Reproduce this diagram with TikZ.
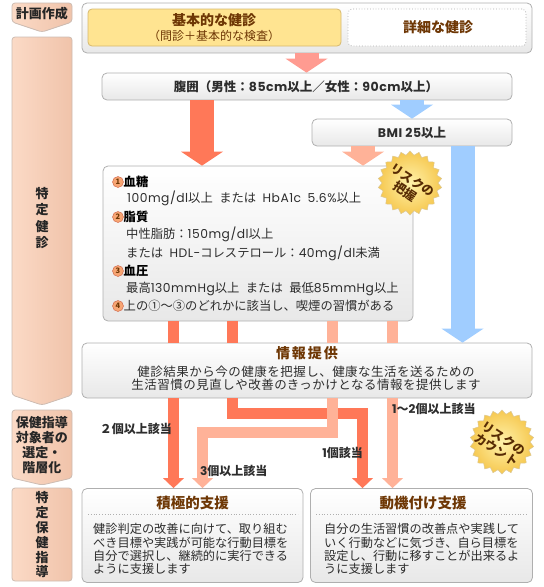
\documentclass[tikz,border=0pt]{standalone}
\usepackage{fontspec}
\setmainfont{Noto Sans CJK JP}
\newfontfamily\latfam{Poppins}
\newcommand\lt[1]{{\latfam\addfontfeature{LetterSpace=4}#1}}
\newcommand\wsp{\hspace{6.5pt}}
\usetikzlibrary{arrows.meta,shapes.symbols}
\definecolor{boxline}{RGB}{175,175,175}
\definecolor{boxbot}{RGB}{232,232,232}
\definecolor{brownt}{RGB}{110,55,5}
\definecolor{txt}{RGB}{45,45,45}
\definecolor{colL}{RGB}{251,218,198}
\definecolor{colR}{RGB}{240,195,170}
\definecolor{colline}{RGB}{205,188,178}
\definecolor{yel}{RGB}{255,228,145}
\definecolor{yelline}{RGB}{215,185,110}
\definecolor{redA}{RGB}{255,120,88}
\definecolor{salA}{RGB}{255,178,152}
\definecolor{pinkA}{RGB}{255,155,145}
\definecolor{blueA}{RGB}{160,205,255}
\definecolor{burstin}{RGB}{255,242,170}
\definecolor{burstout}{RGB}{246,200,80}
\definecolor{burstline}{RGB}{220,200,150}
\definecolor{numfill}{RGB}{247,165,115}
\begin{document}
\begin{tikzpicture}[x=1pt,y=-1pt,
 box/.style={draw=boxline, line width=0.8pt, rounded corners=5pt, top color=white, bottom color=boxbot, inner sep=0pt},
 colshape/.style={draw=colline, line width=0.8pt, left color=colL, right color=colR, rounded corners=3pt},
 coltext/.style={font=\fontsize{13}{15}\selectfont\bfseries, text=black!85, align=center, inner sep=0pt},
 bigarrow/.style={draw=#1, line width=24pt, line cap=butt, -{Triangle[width=42pt,length=14pt,line width=0pt]}},
 shaft/.style={draw=#1, line width=11pt, line cap=butt},
 thinarrow/.style={draw=#1, line width=11pt, line cap=butt, line join=miter, -{Triangle[width=21pt,length=10pt,line width=0pt]}},
 lbl/.style={font=\fontsize{12}{14}\selectfont\bfseries, text=txt, inner sep=0pt},
 rt/.style={font=\fontsize{12.3}{14}\selectfont, text=txt, inner sep=0pt, anchor=base west},
 rh/.style={font=\fontsize{12.3}{14}\selectfont\bfseries, text=black, inner sep=0pt, anchor=base west},
 num/.style={circle, fill=numfill, draw=redA!80!black, line width=0.4pt, inner sep=0pt, minimum size=11pt, font=\fontsize{7.5}{7.5}\selectfont\bfseries, text=brownt},
 burst/.style={starburst, starburst points=22, starburst point height=4pt, random starburst=0, inner color=burstin, outer color=burstout, draw=burstline, line width=0.5pt, minimum size=64pt, inner sep=0pt},
 bursttext/.style={font=\fontsize{12.3}{13.5}\selectfont\bfseries, text=brownt!80!black, align=center, rotate=-33, inner sep=0pt},
 title/.style={font=\fontsize{14}{16}\selectfont\bfseries, text=brownt, inner sep=0pt},
 btxt/.style={font=\fontsize{12.2}{13.4}\selectfont, text=txt, inner sep=0pt, anchor=base west},
 itxt/.style={font=\fontsize{12.5}{13.5}\selectfont\addfontfeature{LetterSpace=4}, text=txt, inner sep=0pt, anchor=base},
 boxt/.style={font=\fontsize{12.5}{14}\selectfont\bfseries, text=txt, inner sep=0pt},
]
\useasboundingbox (0,0) rectangle (544,587);

% ---------- left column ----------
\path[colshape] (12,22) -- (12,3) -- (72,3) -- (72,22) -- (42,32) -- cycle;
\path[colshape] (12,395) -- (12,37) -- (72,37) -- (72,395) -- (42,405) -- cycle;
\path[colshape] (12,478) -- (12,410) -- (72,410) -- (72,478) -- (42,485) -- cycle;
\path[colshape] (12,488) rectangle (72,581);
\node[coltext] (c1) at (42,13.5) {計画作成};
\node[coltext, font=\fontsize{13}{16.5}\selectfont\bfseries] (c2) at (42,218) {特\\定\\健\\診};
\node[coltext] (c3) at (42,445) {保健指導\\対象者の\\選定・\\階層化};
\node[coltext, font=\fontsize{13}{14.8}\selectfont\bfseries] (c4) at (42,535) {特\\定\\保\\健\\指\\導};

% ---------- boxes ----------
\node[box, minimum width=450pt, minimum height=50pt] (checkup) at (307,28) {};
\node[draw=yelline, fill=yel, rounded corners=4pt, line width=0.8pt, minimum width=253pt, minimum height=37pt] (basic) at (214.5,27.5) {};
\node[title] (basict) at (214,20) {基本的な健診};
\node[font=\fontsize{12}{14}\selectfont, text=brownt, inner sep=0pt] (basics) at (214,36) {（問診＋基本的な検査）};
\node[draw=boxline, dotted, fill=white, rounded corners=4pt, line width=0.8pt, minimum width=178pt, minimum height=37pt] (detail) at (437,27.5) {};
\node[title] (detailt) at (438,27.5) {詳細な健診};

\node[box, minimum width=410pt, minimum height=27pt] (waist) at (307,86.5) {};
\node[boxt] (waistt) at (306,87) {腹囲（男性：\lt{85cm}以上／女性：\lt{90cm}以上）};
\node[box, minimum width=200pt, minimum height=27pt] (bmi) at (412,132.5) {};
\node[boxt] (bmit) at (412,133) {\lt{BMI 25}以上};

\node[box, minimum width=310pt, minimum height=155pt] (risk) at (258,243.5) {};
\node[box, minimum width=450pt, minimum height=55pt] (info) at (307,370.5) {};
\node[box, minimum width=221pt, minimum height=94pt] (pos) at (192.5,535.5) {};
\node[box, minimum width=222pt, minimum height=94pt] (mot) at (421.5,535.5) {};

% ---------- arrow x positions ----------
\coordinate (xa) at (306.5,0);
\coordinate (xb) at (412,0);
\coordinate (xc) at (202,0);
\coordinate (xd) at (363,0);
\coordinate (xe) at (462.5,0);
\coordinate (x1) at (173.5,0);
\coordinate (x2) at (232.5,0);
\coordinate (x3) at (332.5,0);
\coordinate (x4) at (392.5,0);
\coordinate (r2a) at (232.5,413.5);
\coordinate (r2b) at (362.5,413.5);
\coordinate (s3a) at (332.5,432.5);
\coordinate (s3b) at (202.5,432.5);

\draw[bigarrow=pinkA] (xa |- checkup.south) -- (xa |- waist.north);
\draw[bigarrow=blueA] (xb |- waist.south) -- (xb |- bmi.north);
\draw[bigarrow=redA] (xc |- waist.south) -- (xc |- risk.north);
\draw[bigarrow=salA] (xd |- bmi.south) -- (xd |- risk.north);
\draw[bigarrow=blueA] (xe |- bmi.south) -- (xe |- info.north);

\draw[shaft=redA] (x1 |- risk.south) -- (x1 |- info.north);
\draw[shaft=redA] (x2 |- risk.south) -- (x2 |- info.north);
\draw[shaft=salA] (x3 |- risk.south) -- (x3 |- info.north);
\draw[shaft=salA] (x4 |- risk.south) -- (x4 |- info.north);

\draw[thinarrow=redA] (x1 |- info.south) -- (x1 |- pos.north);
\draw[thinarrow=redA] (x2 |- info.south) -- (r2a) -- (r2b) -- (r2b |- mot.north);
\draw[thinarrow=salA] (x3 |- info.south) -- (s3a) -- (s3b) -- (s3b |- pos.north);
\draw[thinarrow=salA] (x4 |- info.south) -- (x4 |- mot.north);

% ---------- risk box text ----------
\node[num] (n1) at (118,182) {1};
\node[rh] (h1) at (123.5,186.7) {血糖};
\node[rt] (t1) at (127,202.7) {\lt{100mg/dl}以上\wsp または\wsp\lt{HbA1c\wsp 5.6\%}以上};
\node[num] (n2) at (118,217) {2};
\node[rh] (h2) at (123.5,221.7) {脂質};
\node[rt] (t2) at (126,238.7) {中性脂肪：\lt{150mg/dl}以上};
\node[rt] (t3) at (126,257.7) {または\wsp\lt{HDL-}コレステロール：\lt{40mg/dl}未満};
\node[num] (n3) at (118,271) {3};
\node[rh] (h3) at (123.5,275.7) {血圧};
\node[rt] (t4) at (126,292.7) {最高\lt{130mmHg}以上\wsp または\wsp 最低\lt{85mmHg}以上};
\node[num] (n4) at (118,306) {4};
\node[rt] (t5) at (123.5,310.7) {上の①～③のどれかに該当し、喫煙の習慣がある};

% ---------- info text ----------
\node[title] (infot) at (307,353) {情\hspace{2pt}報\hspace{2pt}提\hspace{2pt}供};
\node[itxt] (i1) at (306,376.5) {健診結果から今の健康を把握し、健康な生活を送るための};
\node[itxt] (i2) at (306,389.8) {生活習慣の見直しや改善のきっかけとなる情報を提供します};

% ---------- bottom boxes text ----------
\node[title, font=\fontsize{14.5}{16}\selectfont\bfseries] (post) at (192.5,503) {積極的支援};
\draw[boxline, dotted, line width=0.8pt] (88,514) -- (298,514);
\node[btxt] (p1) at (93,533.6) {健診判定の改善に向けて、取り組む};
\node[btxt] (p2) at (93,547) {べき目標や実践が可能な行動目標を};
\node[btxt] (p3) at (93,560.4) {自分で選択し、継続的に実行できる};
\node[btxt] (p4) at (93,573.8) {ように支援します};

\node[title, font=\fontsize{14.5}{16}\selectfont\bfseries] (mott) at (423,503) {動機付け支援};
\draw[boxline, dotted, line width=0.8pt] (316,514) -- (527,514);
\node[btxt] (m1) at (324,533.6) {自分の生活習慣の改善点や実践して};
\node[btxt] (m2) at (324,547) {いく行動などに気づき、自ら目標を};
\node[btxt] (m3) at (324,560.4) {設定し、行動に移すことが出来るよ};
\node[btxt] (m4) at (324,573.8) {うに支援します};

% ---------- labels ----------
\node[lbl, anchor=east] (l2) at (172,429) {２個以上該当};
\node[lbl, anchor=west] (l3) at (200,471) {\lt{3}個以上該当};
\node[lbl, anchor=east] (l1) at (363,453) {\lt{1}個該当};
\node[lbl, anchor=west] (l12) at (392,409) {\lt{1}～\lt{2}個以上該当};

% ---------- badges ----------
\node[burst] (b1) at (410,183) {};
\node[bursttext] (b1t) at (409,186) {リスクの\\把握};
\node[burst] (b2) at (502,442) {};
\node[bursttext] (b2t) at (500,444) {リスクの\\カウント};
\end{tikzpicture}
\end{document}
